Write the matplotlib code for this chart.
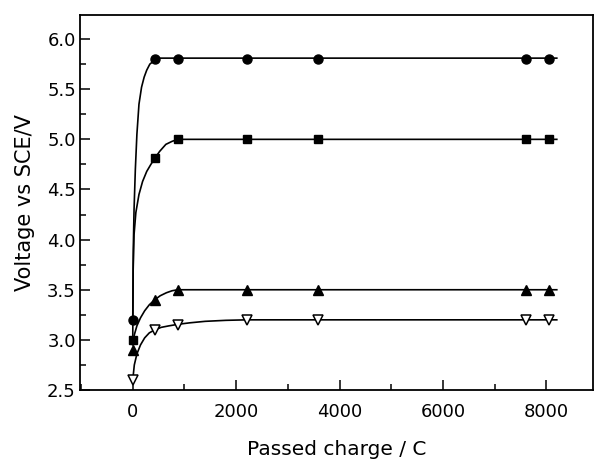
import matplotlib
matplotlib.use("Agg")
import matplotlib.pyplot as plt
from matplotlib.ticker import MultipleLocator

# measured points (passed charge / C, voltage / V)
charge = [0, 425, 870, 2200, 3575, 7610, 8058]
v_circle = [3.2, 5.8, 5.8, 5.8, 5.8, 5.8, 5.8]
v_square = [3.0, 4.81, 5.0, 5.0, 5.0, 5.0, 5.0]
v_triangle = [2.9, 3.4, 3.5, 3.5, 3.5, 3.5, 3.5]
v_invtri = [2.6, 3.1, 3.15, 3.2, 3.2, 3.2, 3.2]

# smooth guide curves
curve_circle_x = [0, 10, 25, 50, 80, 120, 170, 220, 270, 330, 425, 520, 650, 8200]
curve_circle_y = [3.2, 3.9, 4.3, 4.7, 5.05, 5.35, 5.52, 5.62, 5.69, 5.75, 5.79, 5.81, 5.81, 5.81]
curve_square_x = [0, 8, 25, 60, 120, 190, 270, 350, 425, 520, 640, 760, 870, 8200]
curve_square_y = [3.0, 3.7, 4.05, 4.27, 4.45, 4.58, 4.68, 4.75, 4.81, 4.88, 4.95, 4.98, 5.0, 5.0]
curve_triangle_x = [0, 30, 80, 150, 230, 320, 425, 530, 650, 760, 870, 8200]
curve_triangle_y = [2.95, 3.05, 3.14, 3.22, 3.29, 3.35, 3.4, 3.44, 3.47, 3.49, 3.5, 3.5]
curve_invtri_x = [0, 30, 80, 150, 230, 320, 425, 550, 700, 870, 1100, 1400, 1800, 2200, 8200]
curve_invtri_y = [2.6, 2.75, 2.86, 2.95, 3.02, 3.07, 3.1, 3.125, 3.14, 3.155, 3.17, 3.185, 3.195, 3.2, 3.2]

plt.rcParams["font.family"] = "DejaVu Sans"

fig = plt.figure(figsize=(5.94, 4.62), dpi=100)
ax = fig.add_axes([0.1347, 0.1558, 0.8636, 0.8117])

for cx, cy in [(curve_circle_x, curve_circle_y), (curve_square_x, curve_square_y),
               (curve_triangle_x, curve_triangle_y), (curve_invtri_x, curve_invtri_y)]:
    ax.plot(cx, cy, color="black", lw=1.2, zorder=2)

ax.plot(charge, v_circle, "o", color="black", ms=6.5, ls="none", zorder=3)
ax.plot(charge, v_square, "s", color="black", ms=6, ls="none", zorder=3)
ax.plot(charge, v_triangle, "^", color="black", ms=6.5, ls="none", zorder=3)
ax.plot(charge, v_invtri, "v", mfc="white", mec="black", mew=1.1, ms=6.5, ls="none", zorder=3)

ax.set_xlim(-1020, 8900)
ax.set_ylim(2.5, 6.24)
ax.xaxis.set_major_locator(MultipleLocator(2000))
ax.xaxis.set_minor_locator(MultipleLocator(1000))
ax.yaxis.set_major_locator(MultipleLocator(0.5))
ax.yaxis.set_minor_locator(MultipleLocator(0.25))
ax.yaxis.set_major_formatter(matplotlib.ticker.FormatStrFormatter("%.1f"))

ax.tick_params(which="major", direction="in", length=7, width=1.1, labelsize=13)
ax.tick_params(axis="x", which="major", pad=9)
ax.tick_params(axis="y", which="major", pad=3)
ax.tick_params(which="minor", direction="in", length=4, width=1.1)
for s in ax.spines.values():
    s.set_linewidth(1.3)

ax.set_xlabel("Passed charge / C", fontsize=14.5, labelpad=14)
ax.set_ylabel("Voltage vs SCE/V", fontsize=15, labelpad=9)

fig.savefig("out.png", dpi=100)
